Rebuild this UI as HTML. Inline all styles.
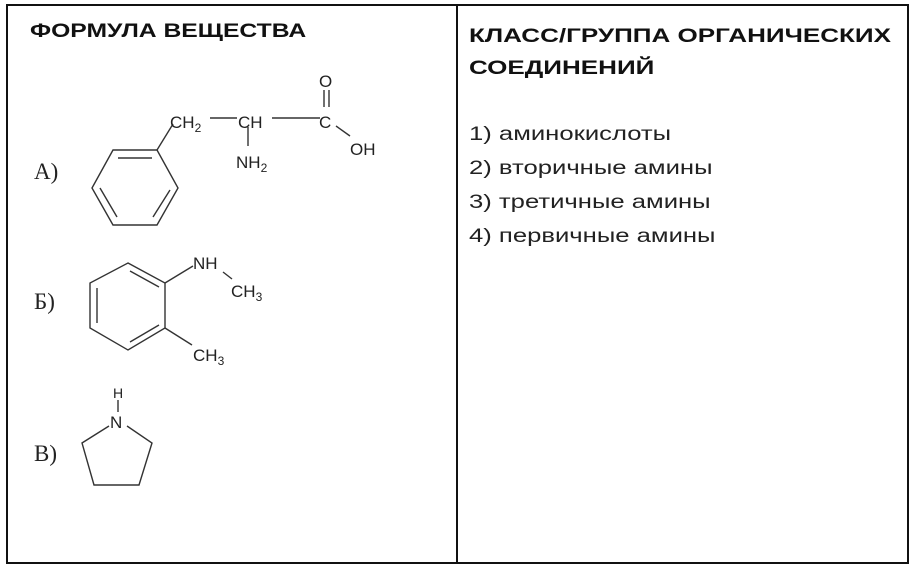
<!DOCTYPE html>
<html><head><meta charset="utf-8"><style>
html,body{margin:0;padding:0;background:#fff;width:916px;height:572px;overflow:hidden}
.t{position:absolute;font-family:"Liberation Sans","DejaVu Sans",sans-serif;color:#111;white-space:nowrap;transform-origin:0 0}
.h{font-weight:bold;font-size:19px}
.i{font-size:19px;color:#222;transform:scaleX(1.35)}
</style></head><body>
<svg width="916" height="572" style="position:absolute;left:0;top:0" xmlns="http://www.w3.org/2000/svg">
<rect x="7" y="5" width="901" height="558" fill="none" stroke="#111" stroke-width="2"/>
<line x1="457" y1="5" x2="457" y2="563" stroke="#111" stroke-width="2"/>
<g stroke="#333" stroke-width="1.4" fill="none">
<polygon points="113,150 157,150 178,188 157,225 113,225 92,188"/>
<line x1="118" y1="158" x2="152" y2="158"/>
<line x1="100" y1="188" x2="117" y2="217"/>
<line x1="170" y1="190" x2="153" y2="217"/>
<line x1="157" y1="150" x2="173" y2="124"/>
<line x1="210" y1="118" x2="237" y2="118"/>
<line x1="272" y1="118" x2="320" y2="118"/>
<line x1="324" y1="90" x2="324" y2="107"/>
<line x1="329" y1="90" x2="329" y2="107"/>
<line x1="336" y1="126" x2="350" y2="136"/>
<line x1="248" y1="127" x2="248" y2="146"/>
<polygon points="128,263 165,283 165,328 128,350 90,328 90,283"/>
<line x1="130" y1="271" x2="159" y2="287"/>
<line x1="97" y1="288" x2="97" y2="323"/>
<line x1="130" y1="342" x2="159" y2="325"/>
<line x1="165" y1="283" x2="193" y2="266"/>
<line x1="223" y1="272" x2="232" y2="279"/>
<line x1="165" y1="328" x2="192" y2="345"/>
<polyline points="109,426 82,443 94,485 139,485 152,443 127,426"/>
<line x1="118" y1="400" x2="118" y2="412"/>
</g>
<g font-family="Liberation Sans,sans-serif" font-size="17" fill="#222">
<text x="170" y="128">CH<tspan font-size="12" dy="4">2</tspan></text>
<text x="238" y="128">CH</text>
<text x="319" y="128">C</text>
<text x="319" y="87">O</text>
<text x="350" y="155">OH</text>
<text x="236" y="168">NH<tspan font-size="12" dy="4">2</tspan></text>
<text x="193" y="269">NH</text>
<text x="231" y="297">CH<tspan font-size="12" dy="4">3</tspan></text>
<text x="193" y="361">CH<tspan font-size="12" dy="4">3</tspan></text>
<text x="110" y="428">N</text>
<text x="113" y="398" font-size="14">H</text>
</g>
<g font-family="Liberation Serif,serif" font-size="23" fill="#222">
<text x="34" y="179">А)</text>
<text x="34" y="309">Б)</text>
<text x="34" y="461">В)</text>
</g>
</svg>
<div class="t h" style="left:30px;top:21px;transform:scaleX(1.30)">ФОРМУЛА ВЕЩЕСТВА</div>
<div class="t h" style="left:469px;top:21px;line-height:32px;transform:scaleX(1.37)">КЛАСС/ГРУППА ОРГАНИЧЕСКИХ<br>СОЕДИНЕНИЙ</div>
<div class="t i" style="left:469px;top:118px;line-height:34px">1) аминокислоты<br>2) вторичные амины<br>3) третичные амины<br>4) первичные амины</div>
</body></html>
